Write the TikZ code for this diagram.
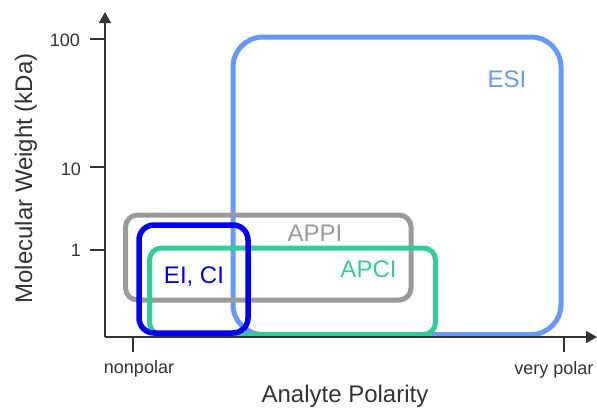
\documentclass[tikz,border=0pt]{standalone}
\usepackage{fontspec}
\setmainfont{Liberation Sans}
\usetikzlibrary{arrows.meta}
\definecolor{esiblue}{HTML}{6699FF}
\definecolor{eiblue}{HTML}{0000EE}
\definecolor{appigray}{HTML}{9A9A9A}
\definecolor{apcigreen}{HTML}{33CC99}
\definecolor{axisgray}{HTML}{333333}
\tikzset{
  regionbox/.style={draw, line width=5pt, inner sep=0pt, outer sep=0pt},
  biglabel/.style={font=\fontsize{24}{24}\selectfont, inner sep=0pt, anchor=base},
  ticklabel/.style={font=\fontsize{18}{18}\selectfont, inner sep=0pt, text=axisgray},
  axisline/.style={draw=axisgray, line width=1.6pt, -{Triangle[length=11pt,width=12pt]}},
  tickline/.style={draw=axisgray, line width=1.6pt},
}
\begin{document}
\begin{tikzpicture}[x=1pt,y=-1pt]
\useasboundingbox (0,0) rectangle (597,408);
% axes coordinates
\coordinate (origin) at (105,337);
\coordinate (ytip) at (105,12);
\coordinate (xtip) at (597,337);
% region boxes
\node[regionbox, draw=esiblue, minimum width=328pt, minimum height=297.5pt, rounded corners=30pt] (esi) at (397,185.75) {};
\node[regionbox, draw=appigray, minimum width=285.5pt, minimum height=85pt, rounded corners=12pt] (appi) at (268.25,257.5) {};
\node[regionbox, draw=apcigreen, minimum width=286pt, minimum height=86.5pt, rounded corners=12pt] (apci) at (292.5,291.25) {};
\node[regionbox, draw=eiblue, line width=5.5pt, minimum width=109pt, minimum height=108pt, rounded corners=15pt] (eici) at (193.5,279) {};
% labels
\node[biglabel, text=esiblue] (esilab) at (507,87.5) {ESI};
\node[biglabel, text=appigray] (appilab) at (315,241.5) {APPI};
\node[biglabel, text=apcigreen] (apcilab) at (368.5,277.5) {APCI};
\node[biglabel, text=eiblue] (eicilab) at (194,283.3) {EI, CI};
% axes
\draw[axisline] (origin) -- (ytip);
\draw[axisline] (origin) -- (xtip);
% y ticks
\coordinate (y100) at (105,39);
\coordinate (y10) at (105,167);
\coordinate (y1) at (105,250);
\coordinate (y100l) at (90,39);
\coordinate (y10l) at (90,167);
\coordinate (y1l) at (90,250);
\draw[tickline] (y100) -- (y100l);
\draw[tickline] (y10) -- (y10l);
\draw[tickline] (y1) -- (y1l);
\node[ticklabel, anchor=base east] (t100) at (80,46.5) {100};
\node[ticklabel, anchor=base east] (t10) at (81,175) {10};
\node[ticklabel, anchor=base east] (t1) at (81,256.5) {1};
% x ticks
\coordinate (xnp) at (133,337);
\coordinate (xnpb) at (133,352);
\coordinate (xvp) at (564,337);
\coordinate (xvpb) at (564,352);
\draw[tickline] (xnp) -- (xnpb);
\draw[tickline] (xvp) -- (xvpb);
\node[ticklabel, anchor=base] (npl) at (139,373) {nonpolar};
\node[ticklabel, anchor=base] (vpl) at (554,374) {very polar};
% axis titles
\node[biglabel, text=axisgray] (xtitle) at (345,402) {Analyte Polarity};
\node[biglabel, text=axisgray, rotate=90] (ytitle) at (32,178.5) {Molecular Weight (kDa)};
\end{tikzpicture}
\end{document}
